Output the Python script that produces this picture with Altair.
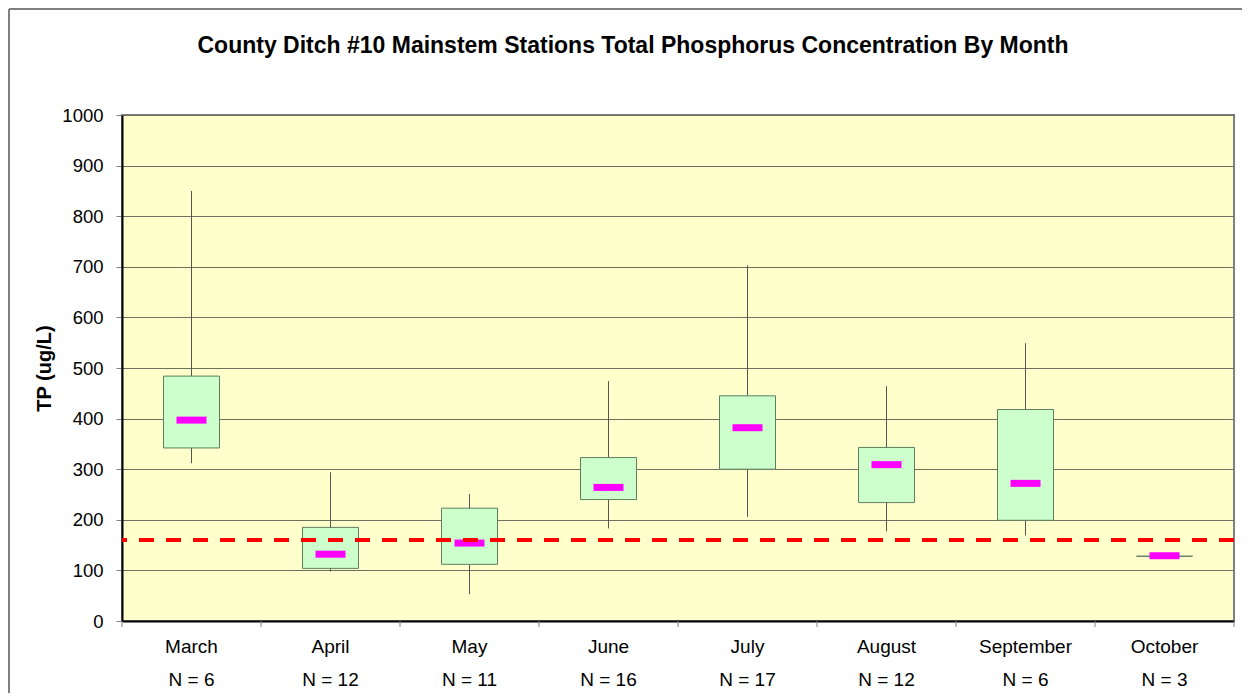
import altair as alt
import pandas as pd

FONT = "Liberation Sans"

months = ["March", "April", "May", "June", "July", "August", "September", "October"]
n_obs = [6, 12, 11, 16, 17, 12, 6, 3]
whisker_low = [312, 98, 53, 183, 206, 177, 169, 128]
q1 = [342, 104, 112, 240, 300, 234, 199, 128]
median = [397, 132, 154, 264, 382, 309, 272, 129]
q3 = [484, 185, 223, 323, 445, 343, 418, 128]
whisker_high = [850, 294, 251, 474, 703, 464, 549, 128]
standard = [160]

labels = [f"{m}|N = {n}" for m, n in zip(months, n_obs)]
df = pd.DataFrame({
    "label": labels,
    "low": whisker_low,
    "q1": q1,
    "median": median,
    "q3": q3,
    "high": whisker_high,
})
last_df = df.iloc[[-1]]
std_df = pd.DataFrame({"std": standard})
one = pd.DataFrame({"a": [0]})

W, H = 1112, 506
PL, PT, PR, PB = 114, 107, 8, 72

x_scale = alt.Scale(paddingInner=0, paddingOuter=0)
x_axis = alt.Axis(
    title=None, labelExpr="split(datum.label, '|')", labelAngle=0,
    labelFont=FONT, labelFontSize=19, labelColor="black",
    labelBaseline="alphabetic", labelLineHeight=33, labelPadding=31,
    ticks=False, tickSize=0, domainColor="black", domainWidth=2, grid=False,
)
y_scale = alt.Scale(domain=[0, 1000], nice=False)
y_axis = alt.Axis(
    title="TP (ug/L)", values=list(range(0, 1001, 100)), format="d",
    titleFont=FONT, titleFontSize=20, titleFontWeight="bold", titleColor="black",
    titleX=-78, titleY=H / 2, titleAngle=-90, titleAlign="center", titleBaseline="middle",
    labelFont=FONT, labelFontSize=18.5, labelColor="black", labelPadding=13,
    tickSize=6, tickColor="#808080", tickWidth=1,
    domainColor="black", domainWidth=2,
    grid=True, gridColor="#707060", gridWidth=1,
)

def X(**kw):
    return alt.X("label:N", sort=labels, scale=x_scale, axis=x_axis, **kw)

base = alt.Chart(df)

whiskers = base.mark_rule(color="#555555", strokeWidth=1).encode(
    x=X(),
    y=alt.Y("low:Q", scale=y_scale, axis=y_axis),
    y2="high:Q",
)

boxes = base.mark_bar(size=56, fill="#CCFFCC", stroke="#5f7f5f", strokeWidth=1).encode(
    x=X(),
    y=alt.Y("q1:Q", scale=y_scale, axis=y_axis),
    y2="q3:Q",
)

medians = base.mark_tick(color="#FF00FF", thickness=7, size=30, opacity=1).encode(
    x=X(),
    y=alt.Y("median:Q", scale=y_scale, axis=y_axis),
)

std_line = alt.Chart(std_df).mark_rule(color="#FF0000", strokeWidth=4, strokeDash=[15, 12]).encode(
    y=alt.Y("std:Q", scale=y_scale, axis=y_axis),
)

cat_ticks = base.mark_rule(color="#808080", strokeWidth=1).encode(
    x=X(bandPosition=0),
    y=alt.value(H),
    y2=alt.value(H + 6),
)
end_tick = alt.Chart(last_df).mark_rule(color="#808080", strokeWidth=1).encode(
    x=X(bandPosition=1),
    y=alt.value(H),
    y2=alt.value(H + 6),
)

border_left = alt.Chart(one).mark_rule(color="#808080", strokeWidth=2).encode(
    x=alt.value(-PL + 1), y=alt.value(-PT + 1), y2=alt.value(H + PB),
)
border_top = alt.Chart(one).mark_rule(color="#808080", strokeWidth=2).encode(
    x=alt.value(-PL + 1), x2=alt.value(W + PR), y=alt.value(-PT + 1),
)

chart = alt.layer(
    border_left, border_top, whiskers, boxes, medians, std_line, cat_ticks, end_tick
).properties(
    width=W, height=H,
    background="white",
    autosize=alt.AutoSizeParams(type="none"),
    padding={"left": PL, "top": PT, "right": PR, "bottom": PB},
    title=alt.TitleParams(
        text="County Ditch #10 Mainstem Stations Total Phosphorus Concentration By Month",
        font=FONT, fontSize=23, fontWeight="bold", color="black",
        anchor="middle", dx=-45, baseline="alphabetic", offset=-68,
    ),
).configure_view(
    fill="#FFFFCC", stroke="#808080", strokeWidth=2,
)

chart.save("out.html", embed_options={"renderer": "svg", "actions": False})
